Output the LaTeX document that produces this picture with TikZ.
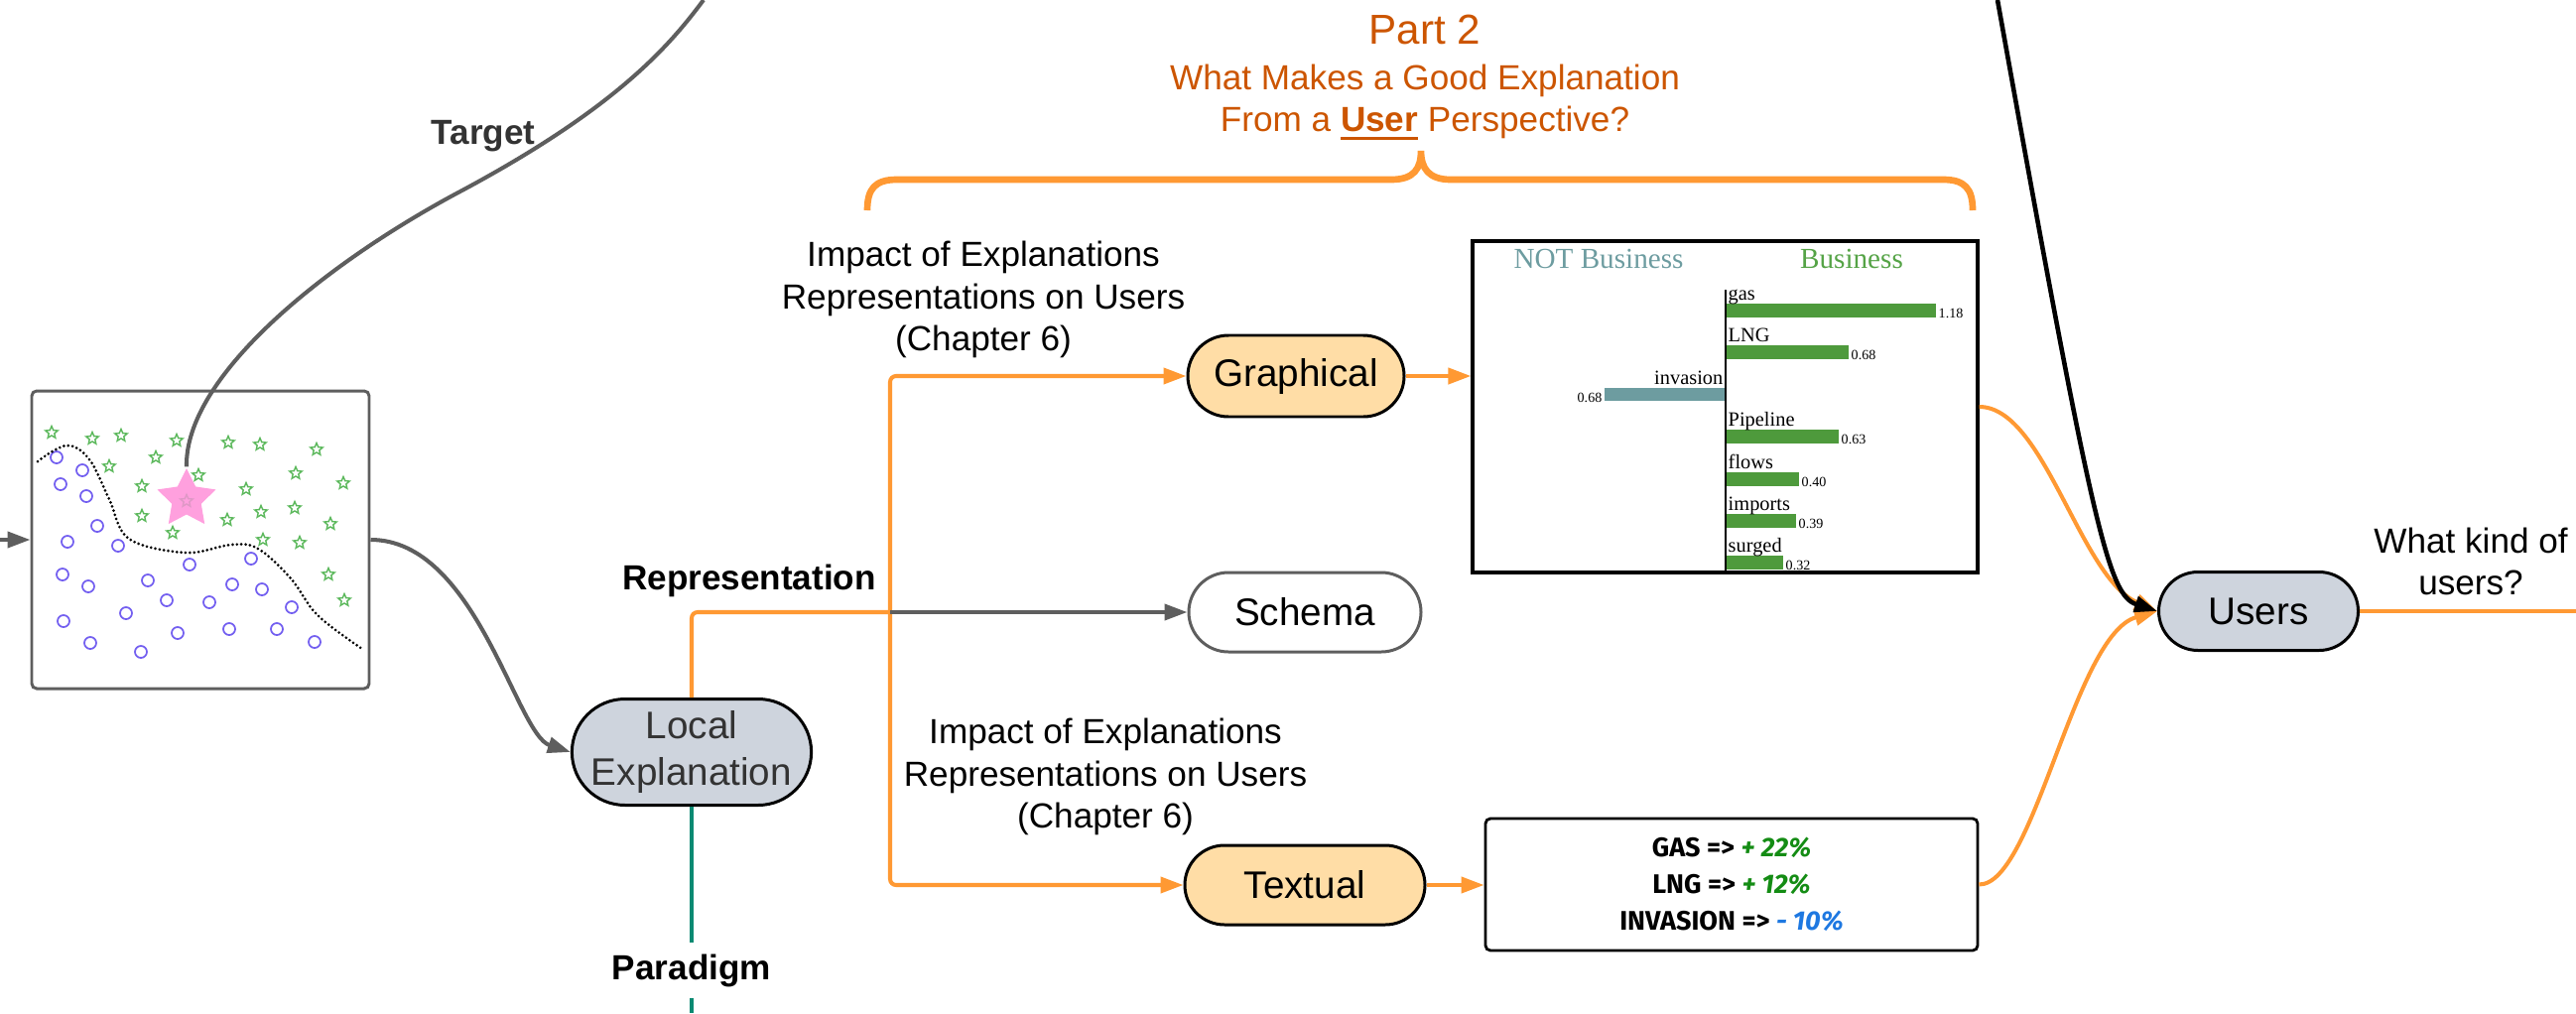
\documentclass[tikz,border=0pt]{standalone}
\usepackage{fontspec}
\setmainfont{Liberation Sans}
\newfontfamily\chartfont{Liberation Serif}
\newfontfamily\comicfont{Fira Sans}
\usetikzlibrary{arrows.meta,shapes.geometric,shapes.misc}

\definecolor{lineorange}{RGB}{255,153,51}
\definecolor{titleorange}{RGB}{204,85,0}
\definecolor{linegray}{RGB}{94,94,94}
\definecolor{textgray}{RGB}{51,51,51}
\definecolor{nodegray}{RGB}{206,212,221}
\definecolor{nodeorange}{RGB}{255,221,166}
\definecolor{paradigmteal}{RGB}{10,138,114}
\definecolor{stargreen}{RGB}{92,184,92}
\definecolor{dotblue}{RGB}{115,95,240}
\definecolor{instpink}{RGB}{255,160,222}
\definecolor{bargreen}{RGB}{78,154,60}
\definecolor{barteal}{RGB}{109,156,160}
\definecolor{titlegreen}{RGB}{85,163,70}
\definecolor{valgreen}{RGB}{20,140,20}
\definecolor{valblue}{RGB}{30,120,225}

\begin{document}
\begin{tikzpicture}[x=0.1mm,y=-0.1mm,
						every node/.style={font=\fontsize{10}{12}\selectfont, align=center},
						pill/.style={rounded rectangle, draw=black, line width=0.85pt,
						inner sep=0pt, minimum height=8mm, font=\fontsize{11}{13.3}\selectfont},
						lbl/.style={font=\fontsize{10}{12}\selectfont\bfseries},
						orangeline/.style={draw=lineorange, line width=1.15pt, rounded corners=0.6mm},
						grayline/.style={draw=linegray, line width=1.15pt},
						arrowtip/.style={-{Triangle[length=2.3mm,width=1.6mm]}},
						starpt/.style={star, star points=5, star point ratio=2.2, draw=stargreen,
						line width=0.4pt, minimum size=1.3mm, inner sep=0pt},
						circpt/.style={circle, draw=dotblue, line width=0.5pt, minimum size=1.2mm, inner sep=0pt},
						barlabel/.style={font=\chartfont\fontsize{5.8}{6}\selectfont, inner sep=0pt},
						barvalue/.style={font=\chartfont\fontsize{4}{5}\selectfont, inner sep=0.2mm}]

		\useasboundingbox (0,0) rectangle (2596,1021);
		\clip (0,0) rectangle (2596,1021);

		\node[draw=linegray, line width=0.85pt, rounded corners=0.5mm,
			minimum width=34mm, minimum height=30mm] (scatter) at (202,544) {};
		\foreach \px/\py [count=\i] in {52/436,93/442,122/439,178/444,157/461,110/470,200/479,143/490,
			230/446,262/448,319/453,298/477,346/487,248/493,263/516,297/512,229/524,143/520,
			174/537,333/528,265/544,302/547,331/579,347/605}
			\node[starpt] (s\i) at (\px,\py) {};
		\foreach \px/\py [count=\i] in {57/461,83/474,61/488,87/500,98/530,68/546,119/550,191/569,
			253/563,63/579,89/591,149/585,234/589,264/594,168/605,211/607,294/612,64/626,
			127/618,179/638,231/634,279/634,317/647,91/648,142/657}
			\node[circpt] (c\i) at (\px,\py) {};
		\draw[dash pattern=on 0pt off 1.25pt, line cap=round, line width=0.85pt]
			plot[smooth, tension=0.6] coordinates {(38,465) (67,449) (90,463) (110,503) (130,543)
			(187,557) (233,549) (260,553) (293,583) (320,620) (365,654)};
		\node[star, star points=5, star point ratio=2, fill=instpink, minimum size=6.2mm,
			inner sep=0pt] (inst) at (188,503) {};
		\node[starpt, draw=instpink!75!gray] (instmark) at (188,505) {};

		\node[pill, fill=nodegray, text=textgray, minimum width=24mm, minimum height=10.7mm]
			(le) at (697,758) {Local\\Explanation};
		\node[pill, fill=nodeorange, minimum width=21.8mm, minimum height=8.2mm] (graph) at (1306,379) {Graphical};
		\node[pill, draw=linegray, fill=white, minimum width=23.4mm] (schema) at (1315,617) {Schema};
		\node[pill, fill=nodeorange, minimum width=24.2mm] (textual) at (1315,892) {Textual};
		\node[pill, fill=nodegray, minimum width=20.1mm, minimum height=7.9mm] (users) at (2276,616) {Users};

		\node[draw=black, line width=0.9pt, minimum width=50.9mm, minimum height=33.4mm] (chart) at (1738.5,410) {};
		\node[font=\chartfont\fontsize{8.3}{10}\selectfont, text=barteal] (notbiz) at (1611,261) {NOT Business};
		\node[font=\chartfont\fontsize{8.3}{10}\selectfont, text=titlegreen] (biz) at (1866,261) {Business};
		\foreach \word/\top/\len/\val in {gas/306/211/1.18, LNG/348/123/0.68, Pipeline/433/113/0.63,
			flows/476/73/0.40, imports/518/70/0.39, surged/560/57/0.32}
		{
			\fill[bargreen] (1740,\top) rectangle ++(\len,13.5);
			\node[barlabel, anchor=base west] at (1741,\top-4) {\word};
			\node[barvalue, anchor=base west] at (1740+\len,\top+14) {\val};
		}
		\fill[barteal] (1617,391) rectangle (1738,404);
		\node[barlabel, anchor=base east] (invlbl) at (1737,387) {invasion};
		\node[barvalue, anchor=base east] (invval) at (1617,405) {0.68};
		\draw[line width=0.7pt] (1739,292) -- (1739,576);

		\node[draw=black, line width=0.8pt, rounded corners=0.5mm, minimum width=49.6mm,
			minimum height=13.3mm, font=\comicfont\bfseries\fontsize{7.7}{10.5}\selectfont] (textbox) at (1745,891.5)
			{GAS => {\color{valgreen}\itshape + 22\%}\\
			LNG => {\color{valgreen}\itshape + 12\%}\\
			INVASION => {\color{valblue}\itshape - 10\%}};

		\node[text=titleorange, font=\fontsize{12}{14}\selectfont] (part) at (1436,30) {Part 2};
		\node[text=titleorange] (question) at (1436,103)
			{What Makes a Good Explanation\\From a \sbox0{\textbf{User}}\usebox0\llap{\rule[-2.4pt]{\wd0}{0.95pt}} Perspective?};
		\draw[draw=lineorange, line width=1.9pt] (874,212) .. controls (874,190) and (882,181) .. (904,181)
			-- (1402,181) .. controls (1425,181) and (1432,170) .. (1432,152)
			.. controls (1432,170) and (1440,181) .. (1462,181)
			-- (1958,181) .. controls (1980,181) and (1988,190) .. (1988,212);

		\node (impact1) at (991,302) {Impact of Explanations\\Representations on Users\\(Chapter 6)};
		\node (impact2) at (1114,783) {Impact of Explanations\\Representations on Users\\(Chapter 6)};
		\node[lbl, text=textgray] (targetlbl) at (487,137) {Target};
		\node[lbl] (replbl) at (755,585) {Representation};
		\node (kind) at (2490,566) {What kind of\\users?};

		\coordinate (entry) at (0,544);
		\coordinate (targetend) at (709,0);
		\coordinate (junc) at (897,617);
		\coordinate (usertop) at (2013,0);
		\coordinate (userexit) at (2596,616);
		\coordinate (paraend) at (697,1021);

		\draw[grayline, arrowtip] (entry) -- (scatter.west);
		\draw[grayline] (inst.north) .. controls (186,380) and (326,267) .. (460,195)
			.. controls (620,110) and (674,47) .. (targetend);
		\draw[grayline, arrowtip] (scatter.east) .. controls (480,544) and (520,740) .. (le.west);

		\draw[orangeline] (le.north) |- (junc);
		\draw[orangeline, arrowtip] (junc) |- (graph.west);
		\draw[orangeline, arrowtip] (junc) |- (textual.west);
		\draw[grayline, arrowtip] (junc) -- (schema.west);
		\draw[orangeline, arrowtip] (graph.east) -- (graph.east -| chart.west);
		\draw[orangeline, arrowtip] (textual.east) -- (textual.east -| textbox.west);

		\draw[orangeline, arrowtip] (chart.east) .. controls (2060,410) and (2096,582) .. (users.west);
		\draw[orangeline, arrowtip] (textbox.east) .. controls (2050,892) and (2090,640) .. (users.west);
		\draw[line width=1.3pt, arrowtip] (usertop) .. controls (2110,540) and (2125,600) .. (users.west);
		\draw[orangeline] (users.east) -- (userexit);

		\draw[draw=paradigmteal, line width=1.2pt] (le.south) -- (paraend);
		\node[lbl, fill=white, inner sep=1.2mm] (paralbl) at (697,978) {Paradigm};

	\end{tikzpicture}
\end{document}
